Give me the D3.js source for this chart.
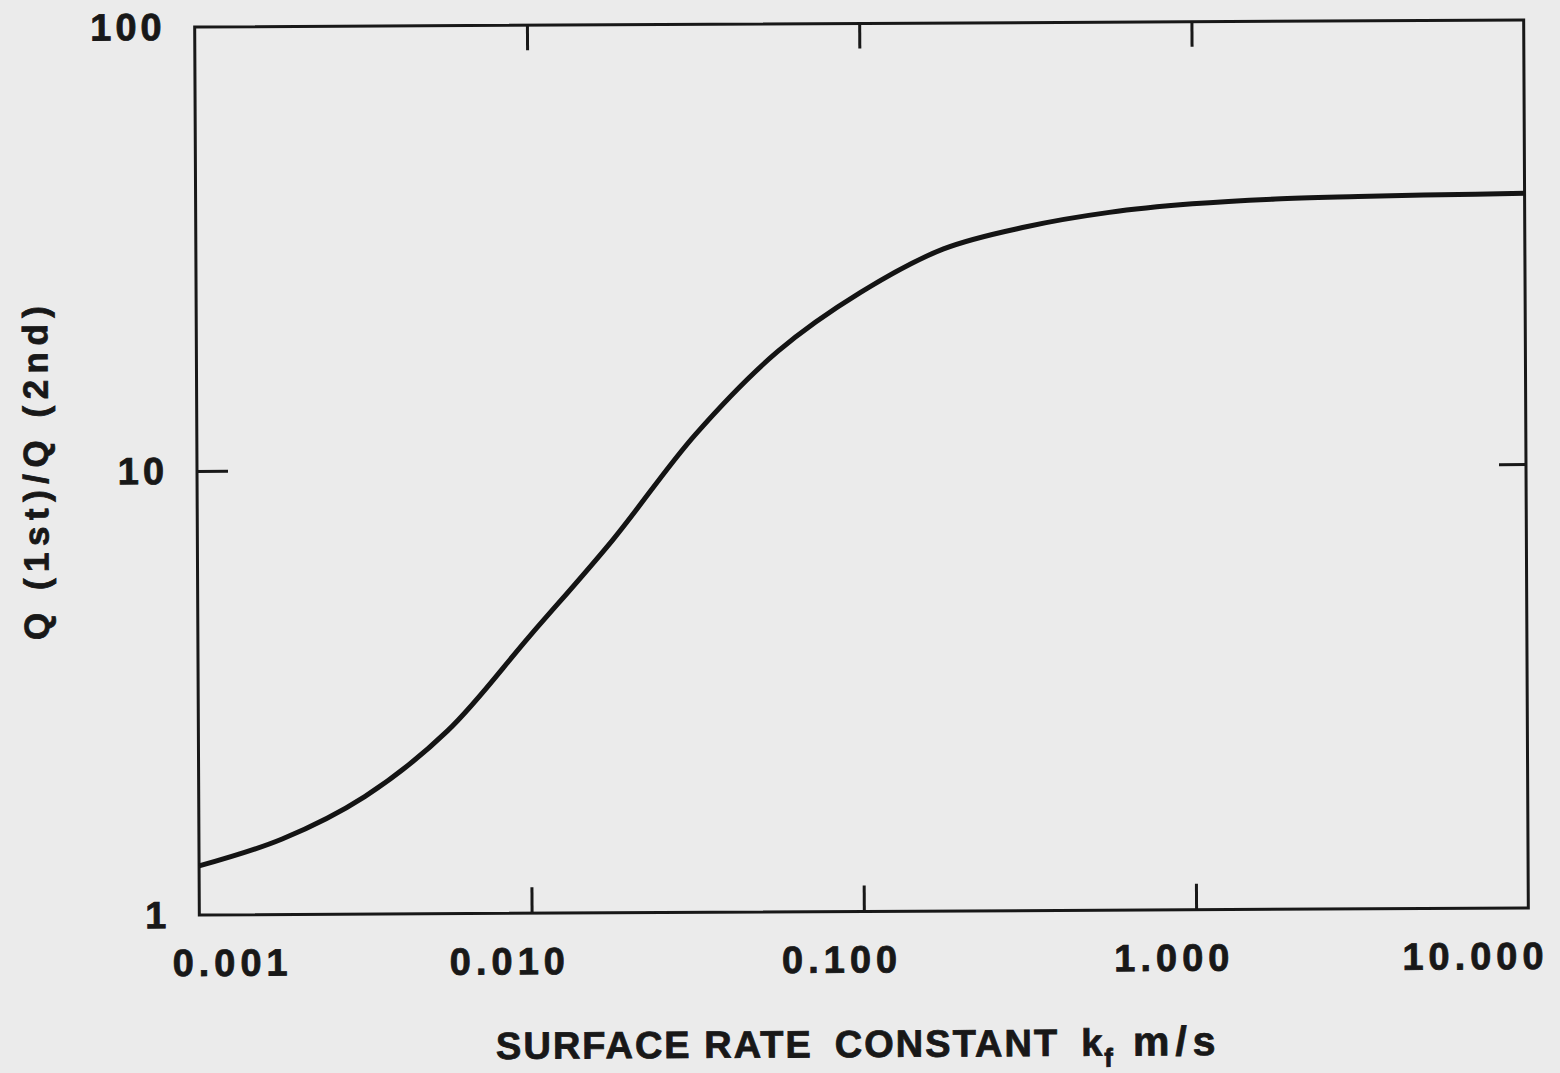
<html>
<head>
<script src="https://d3js.org/d3.v7.min.js"></script>
<style>
    body { margin: 0; background: #ebebeb; }
    text { font-family: "Liberation Sans", Arial, sans-serif; font-weight: bold; fill: #181818; stroke: #181818; stroke-width: 0.8; }
    .tick line { stroke: #181818; stroke-width: 3; }
    .domain { stroke: none; }
</style>
</head>
<body>
<svg id="chart" width="1560" height="1073"></svg>
<script>
// surface rate constant k_f (m/s) vs Q(1st)/Q(2nd)
const rateConstant = [0.001, 0.00178, 0.00316, 0.00562, 0.01, 0.0178, 0.0316, 0.0562, 0.1, 0.178, 0.316, 0.562, 1, 1.78, 3.16, 5.62, 10];
const qRatio = [1.29, 1.48, 1.84, 2.58, 4.22, 6.92, 11.9, 18.3, 24.8, 31.0, 34.7, 37.3, 38.9, 39.8, 40.2, 40.5, 40.7];
const xTicks = [0.001, 0.01, 0.1, 1, 10];
const xTickLabels = ["0.001", "0.010", "0.100", "1.000", "10.000"];
const yTicks = [1, 10, 100];
const yTickLabels = ["1", "10", "100"];

const data = rateConstant.map((k, i) => ({ k: k, q: qRatio[i] }));

const svg = d3.select("svg#chart");
const width = +svg.attr("width");
const height = +svg.attr("height");
const margin = { top: 23.5, right: 34, bottom: 161.5, left: 197 };
const chartWidth = width - margin.left - margin.right;
const chartHeight = height - margin.top - margin.bottom;

// the scanned page is tilted a little
const page = svg.append("g")
    .attr("transform", `rotate(-0.3, ${margin.left + chartWidth / 2}, ${margin.top + chartHeight / 2})`);

const x = d3.scaleLog().domain([0.001, 10]).range([margin.left, margin.left + chartWidth]);
const y = d3.scaleLog().domain([1, 100]).range([margin.top + chartHeight, margin.top]);

// frame
page.append("rect")
    .attr("x", margin.left).attr("y", margin.top)
    .attr("width", chartWidth).attr("height", chartHeight)
    .attr("fill", "none").attr("stroke", "#181818").attr("stroke-width", 3);

// inward ticks on all four sides
const innerX = xTicks.slice(1, -1);
const innerY = yTicks.slice(1, -1);
page.append("g").attr("transform", `translate(0,${margin.top + chartHeight})`)
    .call(d3.axisBottom(x).tickValues(innerX).tickSize(-26).tickFormat(""));
page.append("g").attr("transform", `translate(0,${margin.top})`)
    .call(d3.axisTop(x).tickValues(innerX).tickSize(-25).tickFormat(""));
page.append("g").attr("transform", `translate(${margin.left},0)`)
    .call(d3.axisLeft(y).tickValues(innerY).tickSize(-31).tickFormat(""));
page.append("g").attr("transform", `translate(${margin.left + chartWidth},0)`)
    .call(d3.axisRight(y).tickValues(innerY).tickSize(-27).tickFormat(""));

// x tick labels
page.append("g").selectAll("text").data(xTicks)
    .join("text")
    .attr("x", (d, i) => x(d) + (i === 0 ? -27 : i === xTicks.length - 1 ? 20 : -22))
    .attr("y", margin.top + chartHeight + 61)
    .attr("text-anchor", (d, i) => i === 0 ? "start" : i === xTicks.length - 1 ? "end" : "middle")
    .attr("font-size", 38)
    .attr("letter-spacing", 5)
    .text((d, i) => xTickLabels[i]);

// y tick labels
page.append("g").selectAll("text").data(yTicks)
    .join("text")
    .attr("x", margin.left - 29)
    .attr("y", d => y(d))
    .attr("dy", "0.34em")
    .attr("text-anchor", "end")
    .attr("font-size", 38)
    .attr("letter-spacing", 4)
    .text((d, i) => yTickLabels[i]);

// curve
const line = d3.line()
    .x(d => x(d.k))
    .y(d => y(d.q))
    .curve(d3.curveCatmullRom.alpha(0.5));

page.append("path")
    .datum(data)
    .attr("d", line)
    .attr("fill", "none")
    .attr("stroke", "#141414")
    .attr("stroke-width", 5)
    .attr("stroke-linejoin", "round");

// axis titles
const xTitle = page.append("text")
    .attr("x", 493)
    .attr("y", 1057)
    .attr("font-size", 38)
    .attr("letter-spacing", 2);
xTitle.append("tspan").text("SURFACE RATE");
xTitle.append("tspan").attr("dx", 22).text("CONSTANT");
xTitle.append("tspan").attr("dx", 22).text("k");
xTitle.append("tspan").attr("dy", 11).attr("font-size", 26).text("f");
xTitle.append("tspan").attr("dy", -11).attr("dx", 18).attr("font-size", 41).attr("letter-spacing", 6).text("m/s");

page.append("text")
    .attr("transform", `translate(48,${margin.top + chartHeight / 2 - 2}) rotate(-90)`)
    .attr("text-anchor", "middle")
    .attr("font-size", 35)
    .attr("letter-spacing", 6.5)
    .text("Q (1st)/Q (2nd)");
</script>
</body>
</html>
